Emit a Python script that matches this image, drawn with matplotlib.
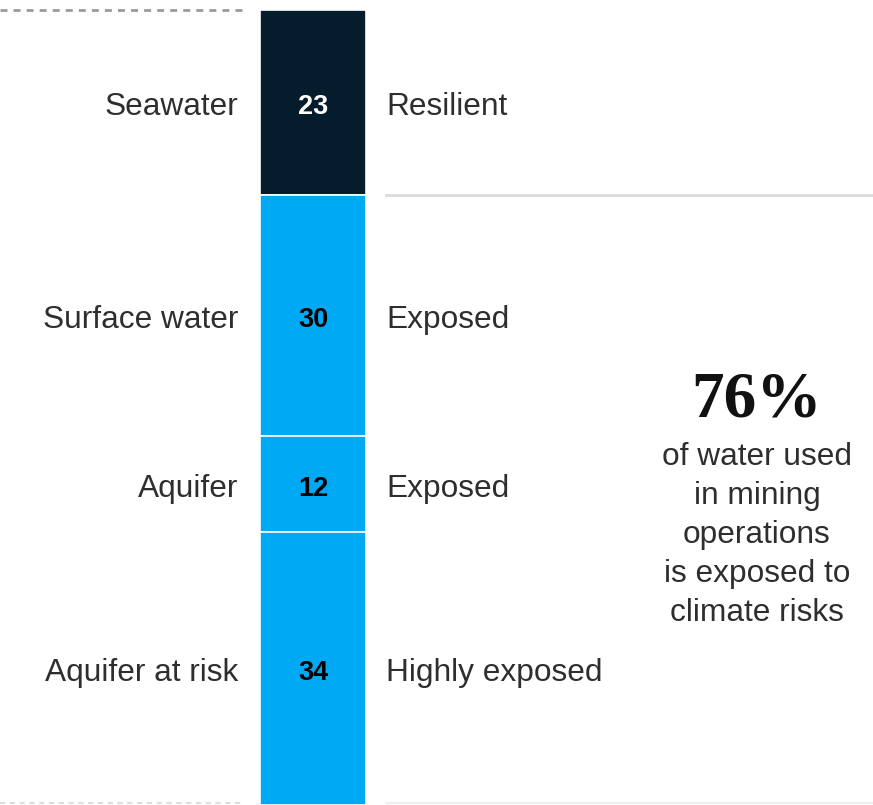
import matplotlib
matplotlib.use("Agg")
import matplotlib.pyplot as plt

# data
sources = ["Seawater", "Surface water", "Aquifer", "Aquifer at risk"]
shares = [23, 30, 12, 34]
exposure = ["Resilient", "Exposed", "Exposed", "Highly exposed"]
seg_colors = ["#051C2C", "#00A9F4", "#00A9F4", "#00A9F4"]
num_colors = ["white", "black", "black", "black"]
headline = "76%"
note_lines = ["of water used", "in mining", "operations", "is exposed to", "climate risks"]

W, H = 873, 805
fig = plt.figure(figsize=(W / 100, H / 100), dpi=100)
ax = fig.add_axes([0, 0, 1, 1])

total = sum(shares)
px_per_unit = (H - 10) / total
top = -10 / px_per_unit

ax.set_xlim(0, W)
ax.set_ylim(total, top)
ax.axis("off")

bar_x = 313
bar_w = 106
sans = "Liberation Sans"
txt_col = "#2e2e2e"
nudge = 0.6  # labels sit a little below the segment middle

bottom = 0
for name, val, lab, col, ncol in zip(sources, shares, exposure, seg_colors, num_colors):
    ax.bar(bar_x, val, width=bar_w, bottom=bottom, color=col,
           edgecolor="white", linewidth=1.2)
    mid = bottom + val / 2 + nudge
    ax.text(bar_x, mid, str(val), ha="center", va="center", color=ncol,
            fontsize=19.5, fontweight="bold", family=sans)
    ax.text(238, mid, name, ha="right", va="center", color=txt_col,
            fontsize=22.8, family=sans)
    ax.text(386, mid, lab, ha="left", va="center", color=txt_col,
            fontsize=22.8, family=sans)
    bottom += val

# dotted guide lines on the left, grey rules on the right
ax.plot([0, 243], [0, 0], color="#9a9a9a", linestyle=(0, (2.5, 2.2)), linewidth=2)
ax.plot([0, 243], [total - 0.25, total - 0.25], color="#dddddd",
        linestyle=(0, (2.5, 2.2)), linewidth=1.5)
ax.plot([386, W], [shares[0], shares[0]], color="#dcdcdc", linewidth=2)
ax.plot([386, W], [total - 0.25, total - 0.25], color="#eeeeee", linewidth=1.5)

# callout
fig.text(757 / W, 1 - 400 / H, headline, ha="center", va="center",
         fontsize=47, fontweight="bold", family="Liberation Serif", color="#111111")
fig.text(757 / W, 1 - 535 / H, "\n".join(note_lines), ha="center", va="center",
         fontsize=22.8, family=sans, color=txt_col, linespacing=1.40)

fig.savefig("out.png", dpi=100, facecolor="white")
